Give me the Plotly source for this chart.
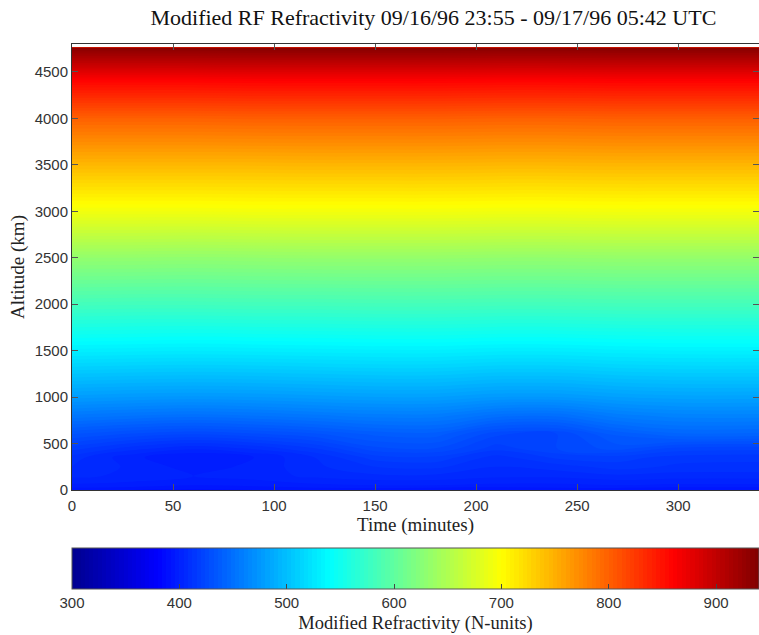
import plotly.graph_objects as go

# Time (minutes since 23:55 UTC)
times = [0, 30, 60, 90, 120, 150, 180, 210, 240, 270, 300, 347]
# Altitude levels
altitudes = [0, 50, 150, 250, 350, 450, 600, 800, 1000, 1500, 2000, 2500, 3000, 3500, 4000, 4400, 4760]

# Modified refractivity (N-units), one row per altitude level
m_0    = [393, 392, 391, 392, 393, 393, 392, 392, 393, 393, 392, 392]
m_50   = [399, 398, 396, 397, 399, 400, 400, 399, 399, 400, 399, 399]
m_150  = [405, 403, 400, 402, 405, 407, 407, 405, 405, 407, 406, 406]
m_250  = [408, 403, 398, 401, 407, 412, 413, 408, 410, 414, 411, 411]
m_350  = [410, 401, 396, 400, 408, 418, 419, 410, 417, 418, 414, 413]
m_450  = [418, 410, 405, 409, 416, 427, 428, 418, 424, 430, 423, 422]
m_600  = [432, 427, 424, 427, 431, 437, 438, 425, 424, 437, 443, 442]
m_800  = [455, 452, 450, 452, 455, 458, 458, 450, 449, 458, 462, 462]
m_1000 = [478, 476, 475, 476, 478, 480, 480, 476, 476, 480, 482, 482]
m_1500 = [530, 529, 528, 529, 530, 531, 531, 529, 529, 531, 532, 532]
m_2000 = [582, 581, 581, 582, 582, 583, 583, 582, 582, 583, 583, 583]
m_2500 = [632, 632, 631, 632, 633, 633, 633, 632, 632, 633, 633, 633]
m_3000 = [692, 692, 692, 693, 693, 693, 693, 692, 692, 693, 693, 693]
m_3500 = [745, 745, 745, 745, 746, 746, 746, 745, 745, 746, 746, 746]
m_4000 = [800, 800, 800, 801, 801, 801, 801, 800, 800, 801, 801, 801]
m_4400 = [858, 858, 858, 859, 859, 859, 859, 858, 858, 859, 859, 859]
m_4760 = [935, 935, 935, 936, 936, 936, 936, 935, 935, 936, 936, 936]

refractivity = [m_0, m_50, m_150, m_250, m_350, m_450, m_600, m_800, m_1000,
                m_1500, m_2000, m_2500, m_3000, m_3500, m_4000, m_4400, m_4760]

x_ticks = [0, 50, 100, 150, 200, 250, 300]
y_ticks = [0, 500, 1000, 1500, 2000, 2500, 3000, 3500, 4000, 4500]
cbar_ticks = [300, 400, 500, 600, 700, 800, 900]

jet = [[0.0, "rgb(0,0,143)"], [0.125, "rgb(0,0,255)"], [0.375, "rgb(0,255,255)"],
       [0.625, "rgb(255,255,0)"], [0.875, "rgb(255,0,0)"], [1.0, "rgb(128,0,0)"]]

SANS = "Liberation Sans, Arial, sans-serif"
SERIF = "Liberation Serif, Times New Roman, serif"

fig = go.Figure(go.Contour(
    x=times, y=altitudes, z=refractivity,
    colorscale=jet, zmin=300, zmax=940,
    contours=dict(start=300, end=945, size=4, coloring="fill", showlines=False),
    line=dict(width=0),
    colorbar=dict(
        orientation="h", x=0.5, xanchor="center", len=1, lenmode="fraction",
        y=-0.130, yanchor="top", thickness=41, xpad=0, ypad=0,
        outlinewidth=1, outlinecolor="#555",
        tickvals=cbar_ticks, ticks="inside", ticklen=5, tickcolor="#444",
        tickfont=dict(family=SANS, size=15, color="#333"),
        title=dict(text="Modified Refractivity (N-units)", side="bottom",
                   font=dict(family=SERIF, size=18.5, color="#222")),
    ),
))

fig.update_layout(
    width=759, height=635,
    margin=dict(l=72, r=0, t=44, b=145),
    paper_bgcolor="white", plot_bgcolor="white",
    title=dict(text="Modified RF Refractivity 09/16/96 23:55 - 09/17/96 05:42 UTC",
               x=0.571, xanchor="center", y=0.972, yanchor="middle",
               font=dict(family=SERIF, size=22, color="#111")),
    xaxis=dict(range=[0, 340], tickvals=x_ticks, ticks="inside", ticklen=6,
               tickcolor="#555", mirror="ticks", showline=True, linecolor="#333",
               showgrid=False, zeroline=False, ticklabelstandoff=2,
               tickfont=dict(family=SANS, size=15, color="#333"),
               title=dict(text="Time (minutes)", standoff=0,
                          font=dict(family=SERIF, size=19, color="#222"))),
    yaxis=dict(range=[0, 4800], tickvals=y_ticks, ticks="inside", ticklen=6,
               tickcolor="#555", mirror="ticks", showline=True, linecolor="#333",
               showgrid=False, zeroline=False,
               tickfont=dict(family=SANS, size=15, color="#333"),
               title=dict(text="Altitude (km)", standoff=4,
                          font=dict(family=SERIF, size=19, color="#222"))),
)

fig.write_html("out.html")
